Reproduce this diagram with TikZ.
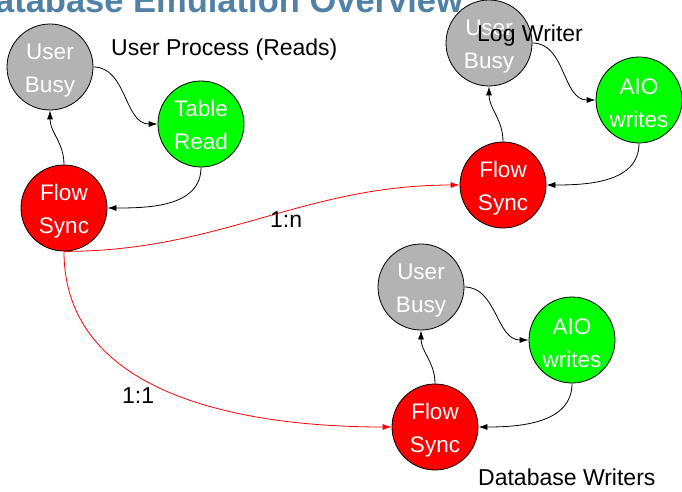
\documentclass[tikz,border=0pt]{standalone}
\usepackage{fontspec}
\setmainfont{Liberation Sans}
\usetikzlibrary{arrows.meta}
\definecolor{titleblue}{RGB}{80,130,165}
\definecolor{busygray}{RGB}{179,179,179}
\definecolor{stategreen}{RGB}{0,255,0}
\definecolor{statered}{RGB}{255,0,0}
\begin{document}
\begin{tikzpicture}[x=1pt,y=-1pt,
  statetext/.style={text=white, align=center, yshift=-3.5pt,
    font=\fontsize{22.5}{33}\selectfont},
  state/.style={circle, draw=black, line width=0.8pt, minimum size=86pt,
    inner sep=0pt, label={[statetext]center:{#1}}},
  busy/.style={state={#1}, fill=busygray},
  work/.style={state={#1}, fill=stategreen},
  sync/.style={state={#1}, fill=statered},
  flow/.style={draw=black, line width=0.8pt, -{Latex[length=9pt,width=6pt]}},
  fan/.style={draw=statered, line width=0.8pt, -{Latex[length=9pt,width=6pt]}},
  lbl/.style={font=\fontsize{23}{27}\selectfont, inner sep=0pt, anchor=base west}]

\useasboundingbox (0,0) rectangle (682,492);
\clip (0,0) rectangle (682,492);

% heading, partly cut by the frame
\node[anchor=base west, inner sep=0pt, text=titleblue,
  font=\fontsize{34.5}{40}\bfseries\selectfont] (title) at (-30,13)
  {Database Emulation Overview};

% user process (reads)
\node[busy={User\\Busy}]  (ub1) at (50,67)   {};
\node[work={Table\\Read\vphantom{y}}] (tr)  at (201,124) {};
\node[sync={Flow\\Sync}]  (fs1) at (64,208)  {};

% log writer
\node[busy={User\\Busy}]  (ub2)  at (489,43)  {};
\node[work={AIO\\writes}] (aio1) at (639,100) {};
\node[sync={Flow\\Sync}]  (fs2)  at (503,185) {};

% database writers
\node[busy={User\\Busy}]  (ub3)  at (421,287) {};
\node[work={AIO\\writes}] (aio2) at (572,340) {};
\node[sync={Flow\\Sync}]  (fs3)  at (435,427) {};

% cycles inside each group
\foreach \b/\w/\s in {ub1/tr/fs1, ub2/aio1/fs2, ub3/aio2/fs3}{
  \draw[flow] (\b.east) to[out=0,in=180] (\w.west);
  \draw[flow] (\w.south) to[out=-90,in=0] (\s.east);
  \draw[flow] (\s.north) to[out=90,in=-90] (\b.south);
}

% synchronisation fan-out
\draw[fan] (fs1.south) to[out=0,in=180] (fs2.west);
\draw[fan] (fs1.south) to[out=-90,in=180] (fs3.west);

% labels
\node[lbl] (lread) at (111,56)  {User Process (Reads)};
\node[lbl] (llog)  at (477,42)  {Log Writer};
\node[lbl] (ldb)   at (478,485) {Database Writers};
\node[lbl] (lon)   at (270,227) {1:n};
\node[lbl] (loo)   at (122,403) {1:1};
\end{tikzpicture}
\end{document}
